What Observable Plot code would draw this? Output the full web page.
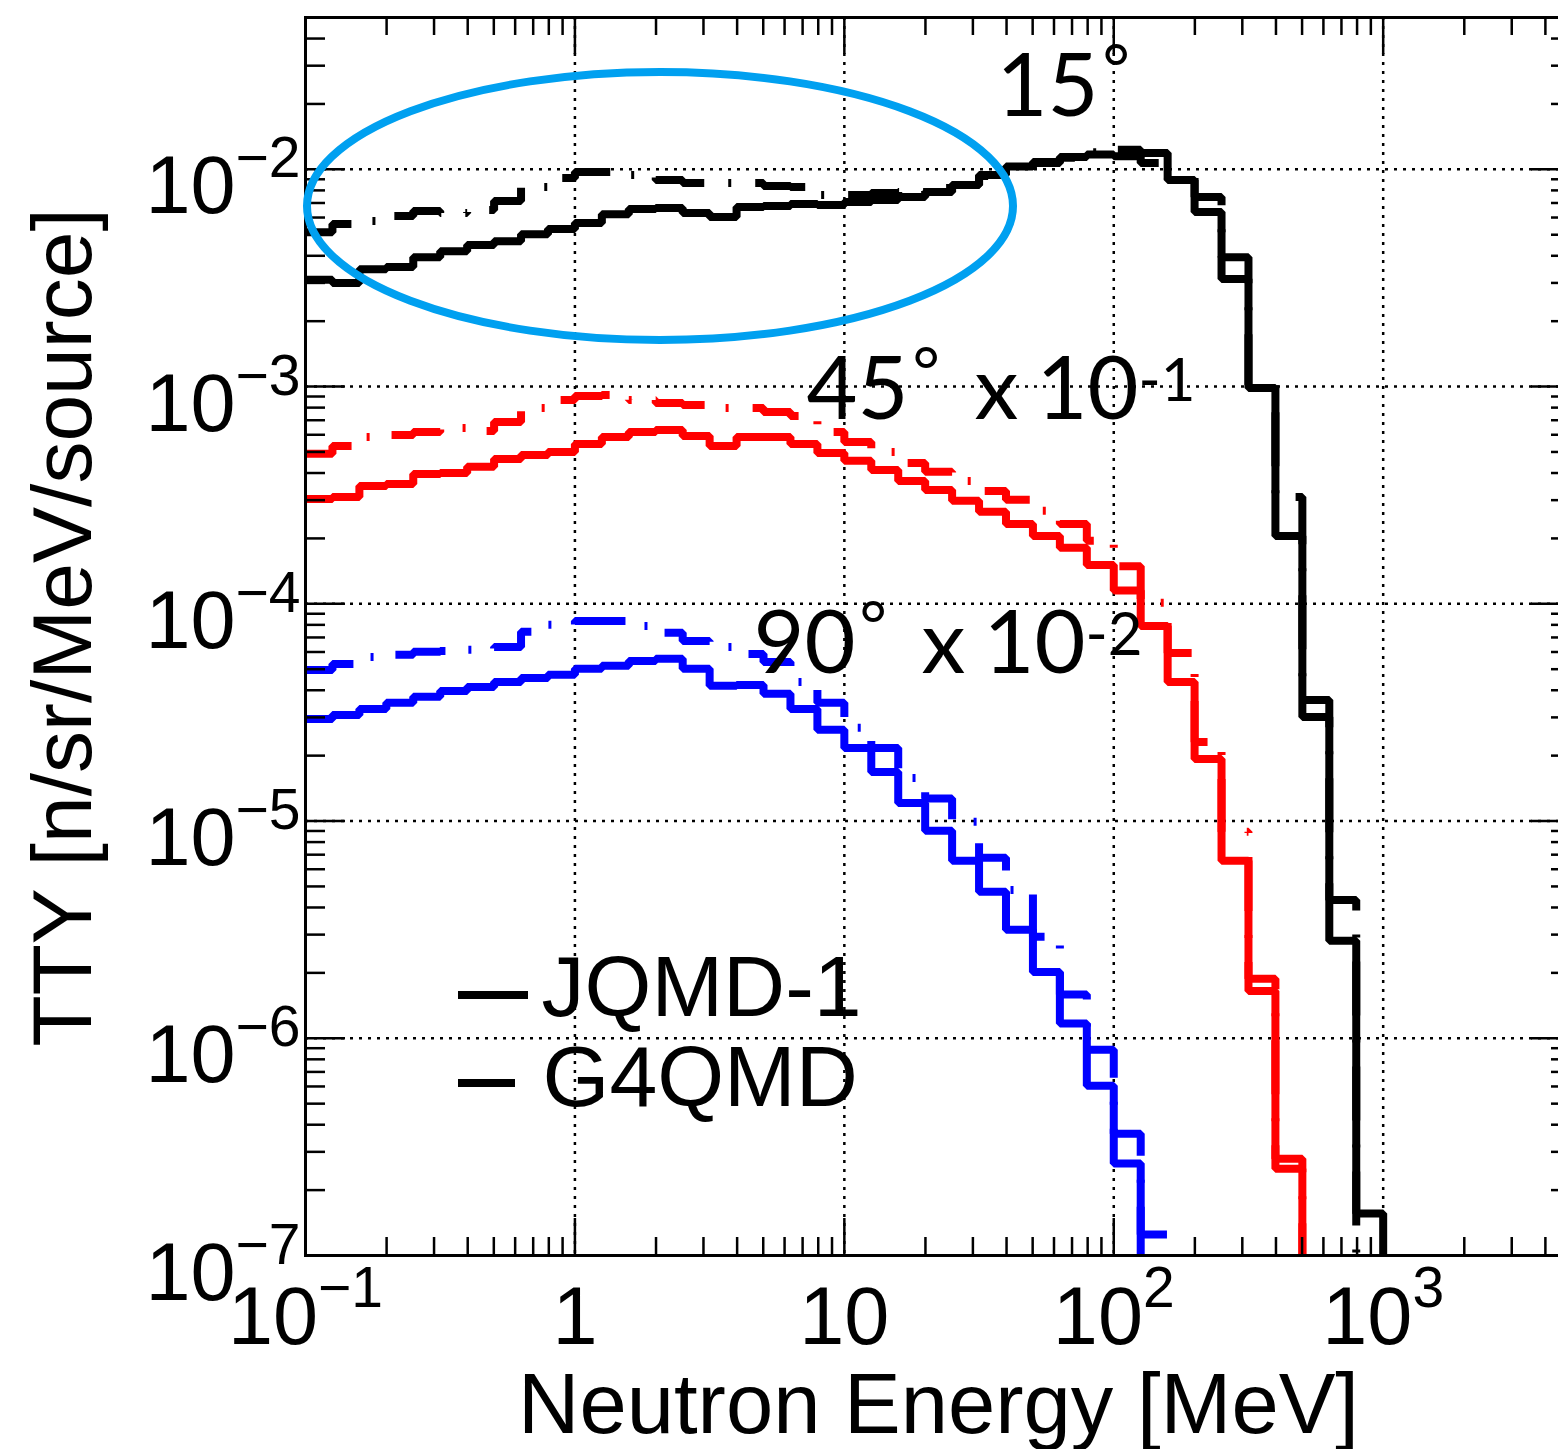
<!DOCTYPE html>
<html>
<head>
<meta charset="utf-8">
<script src="https://cdn.jsdelivr.net/npm/d3@7"></script>
<script src="https://cdn.jsdelivr.net/npm/@observablehq/plot@0.6"></script>
<style>
html, body { margin: 0; padding: 0; background: #fff; overflow: hidden; }
#chart { width: 1600px; }
#chart svg { display: block; }
</style>
</head>
<body>
<div id="chart"></div>
<script>
// ---------------- DATA ----------------
// Histogram bins: 10 log-uniform bins per decade starting at 0.1 MeV
const firstEdge = 0.1;
const binsPerDecade = 10;

// 15 deg (as plotted)
const jqmd15 = [3.10e-3, 3.00e-3, 3.47e-3, 3.55e-3, 3.94e-3, 4.20e-3, 4.48e-3, 4.67e-3, 5.03e-3, 5.31e-3,
  5.66e-3, 6.22e-3, 6.56e-3, 6.63e-3, 6.30e-3, 6.03e-3, 6.71e-3, 6.78e-3, 6.92e-3, 6.85e-3,
  7.08e-3, 7.23e-3, 7.46e-3, 7.87e-3, 8.48e-3, 9.42e-3, 1.03e-2, 1.08e-2, 1.14e-2, 1.17e-2,
  1.15e-2, 1.19e-2, 8.93e-3, 6.37e-3, 3.13e-3, 9.86e-4, 2.05e-4, 3.01e-5, 2.81e-6, 1.56e-7, 1e-9];
const g4qmd15 = [5.14e-3, 5.60e-3, 5.78e-3, 6.10e-3, 6.43e-3, 6.29e-3, 6.50e-3, 7.15e-3, 8.29e-3, 9.12e-3,
  9.72e-3, 9.72e-3, 9.41e-3, 8.93e-3, 8.65e-3, 8.65e-3, 8.65e-3, 8.38e-3, 8.29e-3, 7.61e-3,
  7.61e-3, 7.78e-3, 7.86e-3, 8.20e-3, 8.47e-3, 9.31e-3, 9.93e-3, 1.07e-2, 1.13e-2, 1.20e-2,
  1.23e-2, 1.07e-2, 9.12e-3, 7.46e-3, 3.94e-3, 1.02e-3, 3.10e-4, 3.61e-5, 4.33e-6, 1e-9, 1e-9];

// 45 deg x 10^-1 (as plotted)
const jqmd45 = [3.04e-4, 3.10e-4, 3.49e-4, 3.56e-4, 3.96e-4, 4.00e-4, 4.27e-4, 4.64e-4, 4.84e-4, 5.00e-4,
  5.44e-4, 5.86e-4, 6.18e-4, 6.31e-4, 5.92e-4, 5.33e-4, 5.86e-4, 5.86e-4, 5.44e-4, 4.95e-4,
  4.55e-4, 4.13e-4, 3.68e-4, 3.34e-4, 2.98e-4, 2.65e-4, 2.33e-4, 2.05e-4, 1.81e-4, 1.51e-4,
  1.15e-4, 7.91e-5, 4.37e-5, 1.93e-5, 6.56e-6, 1.65e-6, 2.79e-7, 1e-9];
const g4qmd45 = [4.90e-4, 5.33e-4, 5.86e-4, 5.99e-4, 6.18e-4, 6.45e-4, 6.25e-4, 6.87e-4, 7.97e-4, 8.68e-4,
  9.05e-4, 9.15e-4, 8.68e-4, 8.41e-4, 8.23e-4, 7.97e-4, 7.97e-4, 7.64e-4, 7.32e-4, 6.18e-4,
  5.56e-4, 5.00e-4, 4.45e-4, 4.05e-4, 3.68e-4, 3.31e-4, 3.01e-4, 2.68e-4, 2.33e-4, 1.95e-4,
  1.49e-4, 1.01e-4, 5.94e-5, 2.31e-5, 8.92e-6, 1.88e-6, 2.51e-7, 1e-9];

// 90 deg x 10^-2 (as plotted)
const jqmd90 = [2.95e-5, 3.08e-5, 3.28e-5, 3.50e-5, 3.73e-5, 3.97e-5, 4.14e-5, 4.37e-5, 4.56e-5, 4.71e-5,
  5.02e-5, 5.18e-5, 5.46e-5, 5.58e-5, 5.02e-5, 4.19e-5, 4.23e-5, 3.85e-5, 3.28e-5, 2.63e-5,
  2.17e-5, 1.68e-5, 1.21e-5, 9.02e-6, 6.56e-6, 4.72e-6, 3.16e-6, 2.02e-6, 1.17e-6, 6.04e-7,
  2.65e-7, 1e-9];
const g4qmd90 = [4.96e-5, 5.29e-5, 5.69e-5, 5.82e-5, 6.01e-5, 6.07e-5, 6.14e-5, 6.33e-5, 7.43e-5, 8.00e-5,
  8.34e-5, 8.34e-5, 7.91e-5, 7.35e-5, 6.75e-5, 6.33e-5, 5.88e-5, 5.40e-5, 4.37e-5, 3.50e-5,
  2.69e-5, 2.17e-5, 1.58e-5, 1.27e-5, 9.92e-6, 6.77e-6, 4.82e-6, 2.93e-6, 1.59e-6, 8.85e-7,
  3.63e-7, 1.25e-7, 1e-9];

// axes
const xDomain = [0.1, 5000];
const yDomain = [1e-7, 0.05];
const xTickValues = [0.1, 1, 10, 100, 1000];
const xTickMantissas = ["10", "1", "10", "10", "10"];
const xTickExponents = ["\u22121", "", "", "2", "3"];
const yTickValues = [1e-2, 1e-3, 1e-4, 1e-5, 1e-6, 1e-7];
const yTickMantissas = ["10", "10", "10", "10", "10", "10"];
const yTickExponents = ["\u22122", "\u22123", "\u22124", "\u22125", "\u22126", "\u22127"];
const xTitle = "Neutron Energy [MeV]";
const yTitle = "TTY [n/sr/MeV/source]";
const legendLabels = ["JQMD-1", "G4QMD"];

// ---------------- BUILD ----------------
const edge = i => firstEdge * Math.pow(10, i / binsPerDecade);
function histPoints(values) {
  const pts = values.map((v, i) => ({x: edge(i), y: v}));
  pts.push({x: edge(values.length), y: values[values.length - 1]});
  return pts;
}

const W = 1571, H = 1449, ML = 305, MR = 0, MT = 17, MB = 194;
const innerW = W - ML - MR, innerH = H - MT - MB;

// minor ticks
const xMinor = [];
for (let d = 0.1; d < 5000; d *= 10) for (let m = 2; m <= 9; m++) { const v = d * m; if (v < 5000 * 0.999) xMinor.push(v); }
const yMinor = [];
for (let d = 1e-7; d < 0.05; d *= 10) for (let m = 2; m <= 9; m++) { const v = d * m; if (v < 0.05 * 0.999) yMinor.push(v); }
const xGrid = xTickValues.slice(1);
const yGrid = yTickValues.slice(0, 5);

const ctx = document.createElement("canvas").getContext("2d");
function tw(s, size, fam) { ctx.font = `${size}px "${fam}"`; return ctx.measureText(s).width; }

const axisFont = "Liberation Sans";
const annoFont = "Lato";
const labelSize = 81, supSize = 57;

const dashDot = "54,24,3,24";
const lineW = 8;

function hist(values, color, dashed) {
  return Plot.line(histPoints(values), {
    x: "x", y: "y", curve: "step-after", stroke: color, strokeWidth: lineW,
    strokeDasharray: dashed ? dashDot : null, strokeLinejoin: "miter", strokeLinecap: "butt", clip: true
  });
}

const marks = [];
// grid
marks.push(Plot.ruleX(xGrid, {x: d => d, stroke: "black", strokeWidth: 2.5, strokeDasharray: "3,6"}));
marks.push(Plot.ruleY(yGrid, {y: d => d, stroke: "black", strokeWidth: 2.5, strokeDasharray: "3,6"}));
// histograms
marks.push(hist(g4qmd90, "#0000ff", true));
marks.push(hist(jqmd90, "#0000ff", false));
marks.push(hist(g4qmd45, "#ff0000", true));
marks.push(hist(jqmd45, "#ff0000", false));
marks.push(hist(g4qmd15, "#000000", true));
marks.push(hist(jqmd15, "#000000", false));
// ticks (inside, all four sides)
const tickStyle = {stroke: "black", strokeWidth: 2.5};
marks.push(Plot.ruleX(xTickValues, {x: d => d, insetTop: innerH - 37, ...tickStyle}));
marks.push(Plot.ruleX(xTickValues, {x: d => d, insetBottom: innerH - 37, ...tickStyle}));
marks.push(Plot.ruleX(xMinor, {x: d => d, insetTop: innerH - 18, ...tickStyle}));
marks.push(Plot.ruleX(xMinor, {x: d => d, insetBottom: innerH - 18, ...tickStyle}));
marks.push(Plot.ruleY(yTickValues, {y: d => d, insetRight: innerW - 40, ...tickStyle}));
marks.push(Plot.ruleY(yTickValues, {y: d => d, insetLeft: innerW - 40, ...tickStyle}));
marks.push(Plot.ruleY(yMinor, {y: d => d, insetRight: innerW - 20, ...tickStyle}));
marks.push(Plot.ruleY(yMinor, {y: d => d, insetLeft: innerW - 20, ...tickStyle}));
marks.push(Plot.frame({stroke: "black", strokeWidth: 3}));

// x tick labels
xTickValues.forEach((v, i) => {
  const m = xTickMantissas[i], e = xTickExponents[i];
  const wm = tw(m, labelSize, axisFont), we = e ? tw(e, supSize, axisFont) : 0;
  const total = wm + we;
  marks.push(Plot.text([v], {x: d => d, frameAnchor: "bottom", text: () => m, textAnchor: "start",
    dx: -total / 2, dy: 88, lineAnchor: "bottom", fontSize: labelSize, fontFamily: axisFont, fill: "black"}));
  if (e) marks.push(Plot.text([v], {x: d => d, frameAnchor: "bottom", text: () => e, textAnchor: "start",
    dx: -total / 2 + wm, dy: 51, lineAnchor: "bottom", fontSize: supSize, fontFamily: axisFont, fill: "black"}));
});
// y tick labels
yTickValues.forEach((v, i) => {
  const m = yTickMantissas[i], e = yTickExponents[i];
  const we = tw(e, supSize, axisFont);
  marks.push(Plot.text([v], {y: d => d, frameAnchor: "left", text: () => e, textAnchor: "end",
    dx: -5, dy: 8, lineAnchor: "bottom", fontSize: supSize, fontFamily: axisFont, fill: "black"}));
  marks.push(Plot.text([v], {y: d => d, frameAnchor: "left", text: () => m, textAnchor: "end",
    dx: -5 - we, dy: 44, lineAnchor: "bottom", fontSize: labelSize, fontFamily: axisFont, fill: "black"}));
});
// axis titles
marks.push(Plot.text([xTitle], {frameAnchor: "bottom", text: d => d, textAnchor: "middle", dy: 177, lineAnchor: "bottom",
  fontSize: 85, fontFamily: axisFont, fill: "black"}));
marks.push(Plot.text([yTitle], {frameAnchor: "left", text: d => d, textAnchor: "middle", rotate: -90, dx: 90 - ML, dy: -9,
  lineAnchor: "bottom", fontSize: 84, fontFamily: axisFont, fill: "black"}));

// curve annotations (pixel layout): digits, ring, "x", "10", exponent
function annotation(digits, exponent, left, base) {
  const big = 88, ring = 66, sup = 60;
  const pieces = [];
  const dX = left;
  pieces.push({t: digits, x: dX, y: base, s: big});
  const rX = dX + tw(digits, big, annoFont) + 4;
  pieces.push({t: "\u00b0", x: rX, y: base - 24, s: ring});
  if (exponent) {
    const xX = rX + 62;
    pieces.push({t: "x", x: xX, y: base, s: big});
    const tX = xX + tw("x", big, annoFont) + 18;
    pieces.push({t: "10", x: tX, y: base, s: big});
    const eX = tX + tw("10", big, annoFont);
    pieces.push({t: exponent, x: eX, y: base - 18, s: sup});
  }
  return pieces;
}
const annoPieces = [
  ...annotation("15", "", 996, 115),
  ...annotation("45", "-1", 806, 418),
  ...annotation("90", "-2", 753, 672)
];
annoPieces.forEach(p => {
  marks.push(Plot.text([p.t], {frameAnchor: "top-left", text: d => d, textAnchor: "start", lineAnchor: "bottom",
    dx: p.x - ML, dy: p.y - MT, fontSize: p.s, fontFamily: annoFont, fill: "black"}));
});

// legend
marks.push(Plot.text([legendLabels[0]], {frameAnchor: "top-left", text: d => d, textAnchor: "start", lineAnchor: "bottom",
  dx: 541 - ML, dy: 1015 - MT, fontSize: 86, fontFamily: axisFont, fill: "black"}));
marks.push(Plot.text([legendLabels[1]], {frameAnchor: "top-left", text: d => d, textAnchor: "start", lineAnchor: "bottom",
  dx: 542 - ML, dy: 1105 - MT, fontSize: 86, fontFamily: axisFont, fill: "black"}));
marks.push(function legendLines() {
  const g = d3.create("svg:g").attr("stroke", "black").attr("stroke-width", lineW).attr("stroke-linecap", "butt");
  g.append("line").attr("x1", 458).attr("x2", 528).attr("y1", 995).attr("y2", 995);
  g.append("line").attr("x1", 458).attr("x2", 515).attr("y1", 1083).attr("y2", 1083);
  return g.node();
});
// highlight ellipse
marks.push(function highlight() {
  const g = d3.create("svg:g");
  g.append("ellipse").attr("cx", 660).attr("cy", 206).attr("rx", 353).attr("ry", 134)
    .attr("fill", "none").attr("stroke", "#00a0f0").attr("stroke-width", 8);
  return g.node();
});

const chart = Plot.plot({
  width: W, height: H,
  marginLeft: ML, marginRight: MR, marginTop: MT, marginBottom: MB,
  x: {type: "log", domain: xDomain, axis: null},
  y: {type: "log", domain: yDomain, axis: null},
  style: {background: "white", maxWidth: "none", fontFamily: axisFont, overflow: "visible"},
  marks
});
document.getElementById("chart").appendChild(chart);
</script>
</body>
</html>
